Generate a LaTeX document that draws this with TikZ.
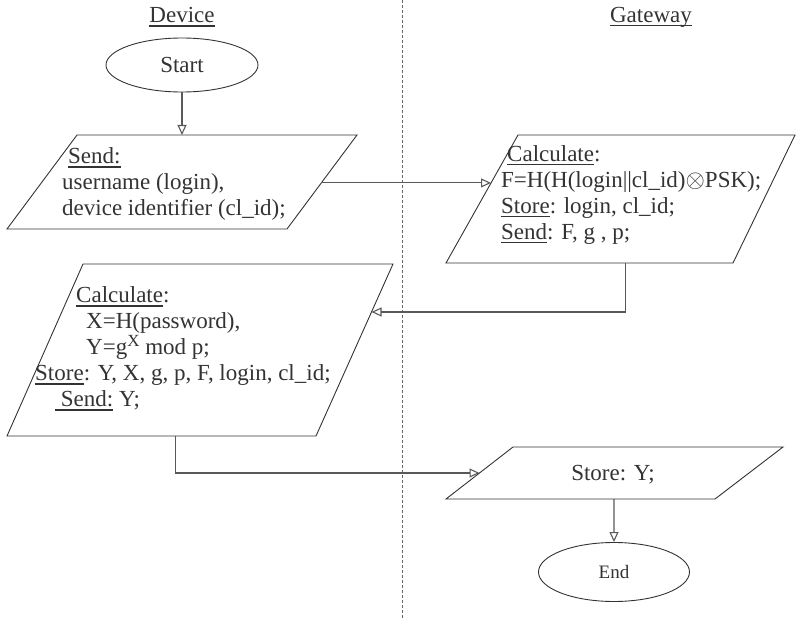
\documentclass[tikz,border=0pt]{standalone}
\usepackage{fontspec}
\setmainfont{Liberation Serif}
\usetikzlibrary{arrows.meta,calc,shapes.geometric}

% heavier underline drawn as a rule below the baseline
\newcommand\ulbar[1]{\setbox0\hbox{#1}\rlap{\rule[-4pt]{\wd0}{1.5pt}}\box0\relax}

\begin{document}
\begin{tikzpicture}[x=1pt,y=-1pt,
  box/.style={draw=black!80, line width=0.9pt},
  term/.style={ellipse, draw=black!80, line width=0.9pt, inner sep=0pt, text=black!80},
  flow/.style={draw=black!65, line width=1.1pt, -{Triangle[open,length=10pt,width=9pt]}},
  txt/.style={font=\fontsize{23}{26}\selectfont, text=black!80, align=left, inner sep=0pt},
  lane/.style={draw=black!60, line width=0.9pt, dash pattern=on 3pt off 2pt},
]
\useasboundingbox (0,0) rectangle (796,618);

% swim-lane headings and divider
\node[txt] (devhead) at (182,17) {\ulbar{Device}};
\node[txt] (gwhead) at (651,17) {\ulbar{Gateway}};
\coordinate (laneTop) at (402,0);
\coordinate (laneBot) at (402,618);
\draw[lane] (laneTop) -- (laneBot);

% start terminal
\node[term, minimum width=152pt, minimum height=54pt, font=\fontsize{23}{26}\selectfont] (start) at (182,65) {Start};

% device: send login data
\coordinate (s1) at (77,135);  \coordinate (s2) at (357,135);
\coordinate (s3) at (287,229); \coordinate (s4) at (7,229);
\draw[box] (s1) -- (s2) -- (s3) -- (s4) -- cycle;
\node[txt, anchor=west] (sendtxt) at (62,184)
  {\hspace{6pt}\ulbar{Send:}\\ username (login),\\ device identifier (cl\_id);};

% gateway: derive F and reply
\coordinate (g1) at (518,135); \coordinate (g2) at (795,135);
\coordinate (g3) at (733,263); \coordinate (g4) at (446,263);
\draw[box] (g1) -- (g2) -- (g3) -- (g4) -- cycle;
\node[txt, anchor=west] (gwtxt) at (501,195)
  {\hspace{6pt}\ulbar{Calculate}:\\ F=H(H(login||cl\_id)$\otimes$PSK);\\
   \ulbar{Store}: login, cl\_id;\\ \ulbar{Send}: F, g , p;};

% device: compute verifier
\coordinate (c1) at (83,264);  \coordinate (c2) at (393,264);
\coordinate (c3) at (316,436); \coordinate (c4) at (7,436);
\draw[box] (c1) -- (c2) -- (c3) -- (c4) -- cycle;
\node[txt, anchor=west] (calctxt) at (35,349)
  {\hspace{41pt}\ulbar{Calculate}:\\
   \hspace{51pt}X=H(password),\\
   \hspace{51pt}Y=g\raisebox{8pt}{\fontsize{17}{17}\selectfont X} mod p;\\
   \ulbar{Store}: Y, X, g, p, F, login, cl\_id;\\
   \hspace{20pt}\ulbar{\ Send:} Y;};

% gateway: store verifier
\coordinate (t1) at (513,447); \coordinate (t2) at (783,447);
\coordinate (t3) at (715,499); \coordinate (t4) at (446,499);
\draw[box] (t1) -- (t2) -- (t3) -- (t4) -- cycle;
\node[txt] (storetxt) at (613,475) {Store: Y;};

% end terminal
\node[term, minimum width=151pt, minimum height=59pt, font=\fontsize{19}{22}\selectfont] (end) at (614,572) {End};

% connection points on the parallelogram edges
\coordinate (sendout) at ($(s2)!0.51!(s3)$);
\coordinate (gwin) at ($(g1)!0.375!(g4)$);
\coordinate (gwout) at ($(g4)!0.624!(g3)$);
\coordinate (calcin) at ($(c2)!0.279!(c3)$);
\coordinate (calcout) at ($(c4)!0.544!(c3)$);
\coordinate (storein) at ($(t1)!0.5!(t4)$);
\coordinate (storeout) at ($(t4)!0.6245!(t3)$);

% flow
\draw[flow] (start.south) -- (start.south |- s1);
\draw[flow] (sendout) -- (sendout -| gwin);
\draw[flow] (gwout) |- (calcin);
\draw[flow] (calcout) |- (storein);
\draw[flow] (storeout) -- (end.north);
\end{tikzpicture}
\end{document}
